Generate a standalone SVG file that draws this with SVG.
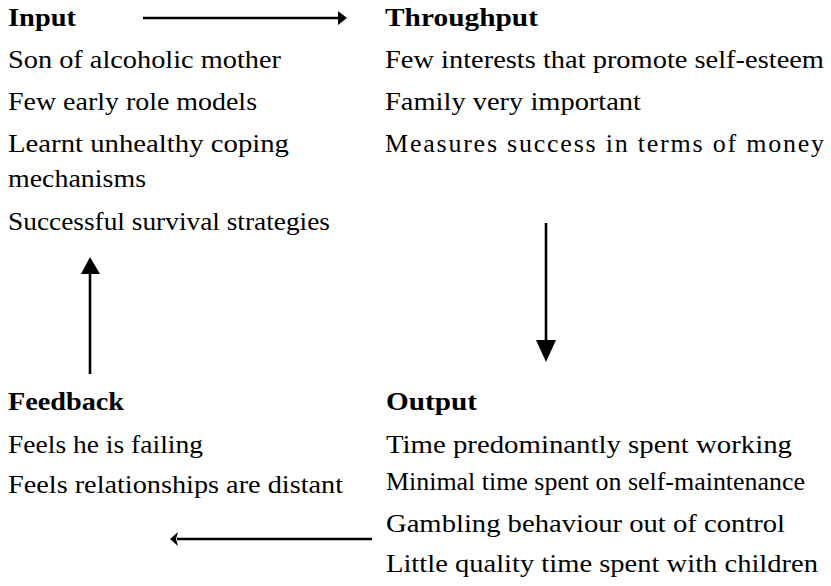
<svg xmlns="http://www.w3.org/2000/svg" width="831" height="586" viewBox="0 0 831 586">
<style>
.t{font-family:'Liberation Serif','Times New Roman',serif;font-size:26px;fill:#000}
.h{font-weight:bold}
.c{stroke:#000;stroke-width:2.6;fill:none}
.ah{fill:#000;stroke:none}
</style>
<rect width="831" height="586" fill="#fff"/>
<g id="input">
<text class="t h" style="font-family:'Liberation Serif',serif" x="8" y="26" textLength="68" lengthAdjust="spacingAndGlyphs">Input</text>
<text class="t" style="font-family:'Liberation Serif',serif" x="8" y="68" textLength="273" lengthAdjust="spacingAndGlyphs">Son of alcoholic mother</text>
<text class="t" style="font-family:'Liberation Serif',serif" x="8" y="110" textLength="249" lengthAdjust="spacingAndGlyphs">Few early role models</text>
<text class="t" style="font-family:'Liberation Serif',serif" x="8" y="152" textLength="281" lengthAdjust="spacingAndGlyphs">Learnt unhealthy coping</text>
<text class="t" style="font-family:'Liberation Serif',serif" x="8" y="187" textLength="138" lengthAdjust="spacingAndGlyphs">mechanisms</text>
<text class="t" style="font-family:'Liberation Serif',serif" x="8" y="230" textLength="322" lengthAdjust="spacingAndGlyphs">Successful survival strategies</text>
</g>
<g id="throughput">
<text class="t h" style="font-family:'Liberation Serif',serif" x="385" y="26" textLength="153" lengthAdjust="spacingAndGlyphs">Throughput</text>
<text class="t" style="font-family:'Liberation Serif',serif" x="385" y="68" textLength="439" lengthAdjust="spacingAndGlyphs">Few interests that promote self-esteem</text>
<text class="t" style="font-family:'Liberation Serif',serif" x="385" y="110" textLength="256" lengthAdjust="spacingAndGlyphs">Family very important</text>
<text class="t" style="font-family:'Liberation Serif',serif" x="385" y="152" textLength="439" lengthAdjust="spacing">Measures success in terms of money</text>
</g>
<g id="output">
<text class="t h" style="font-family:'Liberation Serif',serif" x="386" y="410" textLength="91" lengthAdjust="spacingAndGlyphs">Output</text>
<text class="t" style="font-family:'Liberation Serif',serif" x="386" y="453" textLength="406" lengthAdjust="spacingAndGlyphs">Time predominantly spent working</text>
<text class="t" style="font-family:'Liberation Serif',serif" x="386" y="490" textLength="419" lengthAdjust="spacingAndGlyphs">Minimal time spent on self-maintenance</text>
<text class="t" style="font-family:'Liberation Serif',serif" x="386" y="532" textLength="399" lengthAdjust="spacingAndGlyphs">Gambling behaviour out of control</text>
<text class="t" style="font-family:'Liberation Serif',serif" x="386" y="572" textLength="432" lengthAdjust="spacingAndGlyphs">Little quality time spent with children</text>
</g>
<g id="feedback">
<text class="t h" style="font-family:'Liberation Serif',serif" x="8" y="410" textLength="116" lengthAdjust="spacingAndGlyphs">Feedback</text>
<text class="t" style="font-family:'Liberation Serif',serif" x="8" y="453" textLength="195" lengthAdjust="spacingAndGlyphs">Feels he is failing</text>
<text class="t" style="font-family:'Liberation Serif',serif" x="8" y="493" textLength="335" lengthAdjust="spacingAndGlyphs">Feels relationships are distant</text>
</g>
<g id="connectors">
<line class="c" x1="143" y1="18" x2="340" y2="18"/>
<polygon class="ah" points="347,18 338,11 338,25"/>
<line class="c" x1="546" y1="223" x2="546" y2="342"/>
<polygon class="ah" points="546,362 536,340 556,340"/>
<line class="c" x1="372" y1="539" x2="177" y2="539"/>
<polygon class="ah" points="170,539 178,532 176,539 178,546"/>
<line class="c" x1="90" y1="374" x2="90" y2="272"/>
<polygon class="ah" points="90,257 81,274 100,274"/>
</g>
</svg>
